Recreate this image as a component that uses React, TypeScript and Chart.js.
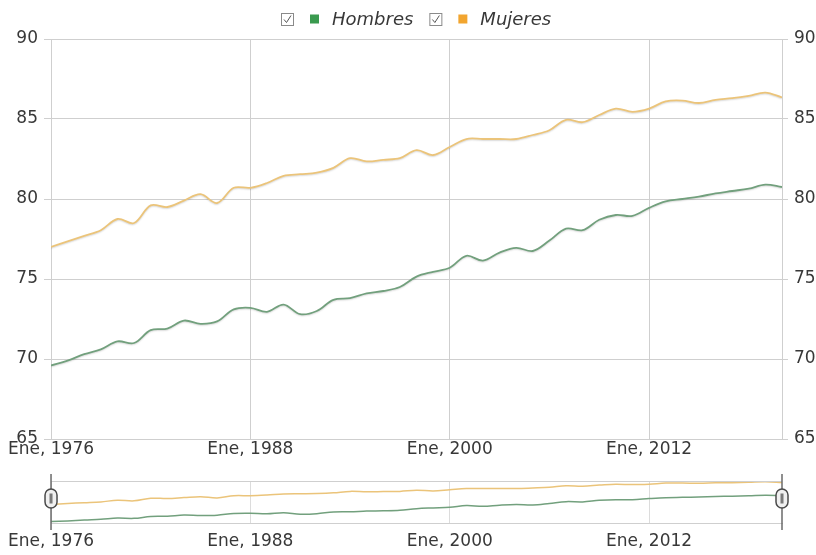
import React, { useEffect, useRef } from "react";
import { Chart, registerables } from "chart.js";

Chart.register(...registerables);

const years = [
  1976, 1977, 1978, 1979, 1980, 1981, 1982, 1983, 1984, 1985, 1986, 1987, 1988, 1989, 1990,
  1991, 1992, 1993, 1994, 1995, 1996, 1997, 1998, 1999, 2000, 2001, 2002, 2003, 2004, 2005,
  2006, 2007, 2008, 2009, 2010, 2011, 2012, 2013, 2014, 2015, 2016, 2017, 2018, 2019, 2020,
];

const hombres = [
  69.6, 69.9, 70.3, 70.6, 71.1, 71.0, 71.8, 71.9, 72.4, 72.2, 72.35, 73.1, 73.2, 72.95, 73.4,
  72.8, 73.0, 73.7, 73.8, 74.1, 74.25, 74.5, 75.15, 75.45, 75.7, 76.45, 76.15, 76.65, 76.95, 76.75,
  77.4, 78.15, 78.05, 78.7, 79.0, 78.95, 79.45, 79.85, 80.0, 80.15, 80.35, 80.5, 80.65, 80.9, 80.75,
];

const mujeres = [
  77.0, 77.35, 77.7, 78.05, 78.75, 78.5, 79.6, 79.5, 79.9, 80.3, 79.75, 80.7, 80.7, 81.0, 81.45,
  81.55, 81.65, 81.95, 82.55, 82.35, 82.45, 82.55, 83.05, 82.75, 83.25, 83.75, 83.75, 83.75, 83.75, 84.0,
  84.3, 84.95, 84.8, 85.25, 85.65, 85.45, 85.65, 86.1, 86.15, 86.0, 86.2, 86.3, 86.45, 86.65, 86.35,
];

const seriesNames = ["Hombres", "Mujeres"];
const tickYears = [1976, 1988, 2000, 2012];
const monthLabel = "Ene";
const yMin = 65;
const yMax = 90;
const yStep = 5;

const lineColors = ["#72a07d", "#ebc47a"];
const legendColors = ["#3a9a4f", "#f2a52f"];
const FONT = "'DejaVu Sans', Verdana, sans-serif";
const TEXT = "#383838";
const GRID = "#cfcfcf";

const toPoints = (vals: number[]) => years.map((y, i) => ({ x: y, y: vals[i] }));

const setTicks = (s: any) => {
  s.ticks = tickYears.map((v) => ({ value: v }));
};

const legendPlugin = {
  id: "customLegend",
  afterDraw(chart: any) {
    const ctx = chart.ctx;
    ctx.save();
    ctx.font = `italic 18px ${FONT}`;
    ctx.textBaseline = "alphabetic";
    let x = 281;
    for (let i = 0; i < seriesNames.length; i++) {
      ctx.fillStyle = "#ffffff";
      ctx.fillRect(x + 0.5, 13.5, 12, 12);
      ctx.strokeStyle = "#8a8a8a";
      ctx.lineWidth = 1;
      ctx.strokeRect(x + 0.5, 13.5, 12, 12);
      ctx.beginPath();
      ctx.moveTo(x + 3, 19.5);
      ctx.lineTo(x + 5.5, 22.5);
      ctx.lineTo(x + 10, 15.5);
      ctx.strokeStyle = "#555555";
      ctx.stroke();
      x += 13 + 16;
      ctx.fillStyle = legendColors[i];
      ctx.fillRect(x, 14.5, 9, 9);
      x += 9 + 13;
      ctx.fillStyle = TEXT;
      ctx.fillText(seriesNames[i], x, 25);
      x += ctx.measureText(seriesNames[i]).width + 16;
    }
    ctx.restore();
  },
};

const shadowPlugin = {
  id: "lineShadow",
  beforeDatasetDraw(chart: any) {
    const ctx = chart.ctx;
    ctx.save();
    ctx.shadowColor = "rgba(0,0,0,0.15)";
    ctx.shadowBlur = 1.5;
    ctx.shadowOffsetY = 1;
  },
  afterDatasetDraw(chart: any) {
    chart.ctx.restore();
  },
};

const navigatorPlugin = {
  id: "navigatorDecor",
  afterDraw(chart: any) {
    const ctx = chart.ctx;
    const a = chart.chartArea;
    ctx.save();
    ctx.strokeStyle = "#cfcfcf";
    ctx.lineWidth = 1;
    ctx.beginPath();
    ctx.moveTo(a.left, Math.round(a.top) + 0.5);
    ctx.lineTo(a.right, Math.round(a.top) + 0.5);
    ctx.stroke();
    const handle = (hx: number) => {
      ctx.strokeStyle = "#6a6a6a";
      ctx.lineWidth = 1.5;
      ctx.beginPath();
      ctx.moveTo(hx, a.top - 7);
      ctx.lineTo(hx, a.bottom + 7);
      ctx.stroke();
      const w = 12;
      const h = 19;
      const top = a.top + 8;
      ctx.beginPath();
      ctx.roundRect(hx - w / 2, top, w, h, 6);
      ctx.fillStyle = "#f0f0f0";
      ctx.fill();
      ctx.strokeStyle = "#4a4a4a";
      ctx.lineWidth = 1.5;
      ctx.stroke();
      ctx.fillStyle = "#7a7a7a";
      ctx.fillRect(hx - 1.5, top + 4.5, 3, h - 9);
    };
    handle(a.left);
    handle(a.right);
    ctx.restore();
  },
};

export default function App() {
  const mainRef = useRef<HTMLCanvasElement | null>(null);
  const navRef = useRef<HTMLCanvasElement | null>(null);

  useEffect(() => {
    const tickFont = { family: FONT, size: 17 };
    const xCallback = (v: any) => `${monthLabel}, ${v}`;

    const main = new Chart(mainRef.current as HTMLCanvasElement, {
      type: "line",
      data: {
        datasets: [
          {
            label: seriesNames[0],
            data: toPoints(hombres),
            borderColor: lineColors[0],
            borderWidth: 1.8,
            pointRadius: 0,
            tension: 0.35,
            fill: false,
          },
          {
            label: seriesNames[1],
            data: toPoints(mujeres),
            borderColor: lineColors[1],
            borderWidth: 1.8,
            pointRadius: 0,
            tension: 0.35,
            fill: false,
          },
        ],
      },
      options: {
        responsive: false,
        animation: false,
        layout: { padding: { top: 39, left: 0, right: 0, bottom: 0 } },
        plugins: { legend: { display: false }, tooltip: { enabled: false } },
        scales: {
          x: {
            type: "linear",
            min: years[0],
            max: years[years.length - 1],
            afterBuildTicks: setTicks,
            afterFit: (s: any) => {
              s.height = 26;
            },
            grid: { color: GRID, drawTicks: false },
            border: { display: false },
            ticks: { callback: xCallback, font: tickFont, color: TEXT, padding: 0, maxRotation: 0, autoSkip: false },
          },
          y: {
            position: "left",
            min: yMin,
            max: yMax,
            afterFit: (s: any) => {
              s.width = 51;
            },
            grid: { color: GRID, tickLength: 7 },
            border: { color: GRID },
            ticks: { stepSize: yStep, font: tickFont, color: TEXT, padding: 6 },
          },
          y2: {
            position: "right",
            min: yMin,
            max: yMax,
            afterFit: (s: any) => {
              s.width = 34;
            },
            grid: { color: GRID, drawOnChartArea: false, tickLength: 6 },
            border: { color: GRID },
            ticks: { stepSize: yStep, font: tickFont, color: TEXT, padding: 6 },
          },
        },
      } as any,
      plugins: [legendPlugin, shadowPlugin],
    });

    const nav = new Chart(navRef.current as HTMLCanvasElement, {
      type: "line",
      data: {
        datasets: [
          {
            label: seriesNames[0],
            data: toPoints(hombres),
            borderColor: lineColors[0],
            borderWidth: 1.5,
            pointRadius: 0,
            tension: 0.35,
            fill: false,
          },
          {
            label: seriesNames[1],
            data: toPoints(mujeres),
            borderColor: lineColors[1],
            borderWidth: 1.5,
            pointRadius: 0,
            tension: 0.35,
            fill: false,
          },
        ],
      },
      options: {
        responsive: false,
        animation: false,
        layout: { padding: { top: 16, left: 51, right: 34, bottom: 0 } },
        plugins: { legend: { display: false }, tooltip: { enabled: false } },
        scales: {
          x: {
            type: "linear",
            min: years[0],
            max: years[years.length - 1],
            afterBuildTicks: setTicks,
            afterFit: (s: any) => {
              s.height = 32;
            },
            grid: { color: "#dcdcdc", drawTicks: false },
            border: { display: true, color: "#cfcfcf" },
            ticks: { callback: xCallback, font: tickFont, color: TEXT, padding: 8, maxRotation: 0, autoSkip: false },
          },
          y: { display: false, min: 69, max: 87 },
        },
      } as any,
      plugins: [navigatorPlugin],
    });

    return () => {
      main.destroy();
      nav.destroy();
    };
  }, []);

  return (
    <div style={{ position: "fixed", left: 0, top: 0, width: 816, height: 555, background: "#ffffff" }}>
      <canvas ref={mainRef} width={816} height={465} style={{ position: "absolute", left: 0, top: 0 }} />
      <canvas ref={navRef} width={816} height={90} style={{ position: "absolute", left: 0, top: 465 }} />
    </div>
  );
}
